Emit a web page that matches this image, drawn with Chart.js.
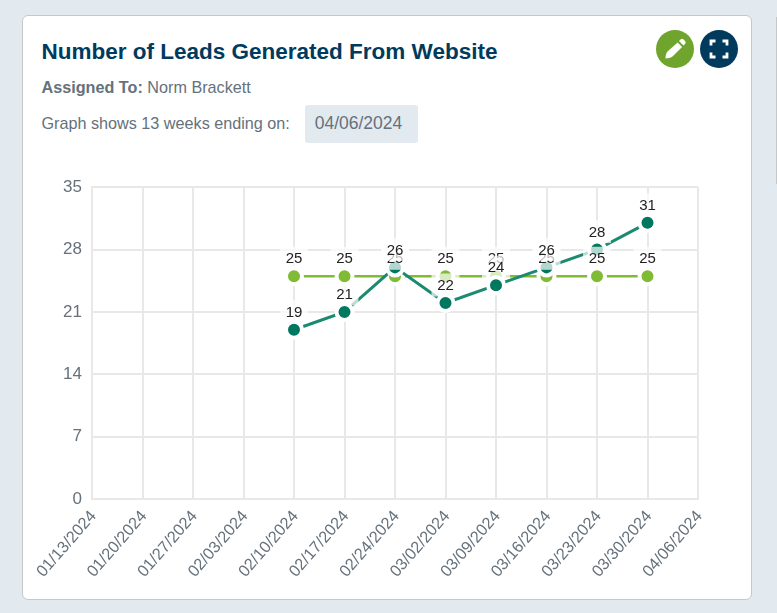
<!DOCTYPE html>
<html>
<head>
<meta charset="utf-8">
<title>Number of Leads Generated From Website</title>
<script src="https://cdn.jsdelivr.net/npm/chart.js@4"></script>
<style>
  html, body { margin: 0; height: 100%; overflow: hidden; background: #e2eaf0; font-family: "Liberation Sans", Arial, sans-serif; }
  .card { position: absolute; left: 22px; top: 15px; width: 728px; height: 583px; background: #fff; border: 1px solid #c4c8ca; border-radius: 6px; }
  .next-card { position: absolute; left: 776px; top: 17px; width: 1px; height: 167px; background: #c4c8ca; }
  .title { position: absolute; left: 18.5px; top: 23px; margin: 0; font-size: 22.5px; line-height: 26px; font-weight: bold; color: #003a5d; white-space: nowrap; }
  .assigned { position: absolute; left: 18.5px; top: 61px; font-size: 16.2px; line-height: 20px; color: #65717b; white-space: nowrap; }
  .ending { position: absolute; left: 18.5px; top: 97px; font-size: 16.2px; line-height: 20px; color: #65717b; white-space: nowrap; }
  .date { position: absolute; left: 282px; top: 89px; width: 107px; padding-right: 6px; height: 38px; line-height: 36px; text-align: center; font-size: 17.5px; color: #65717b; background: #e2eaf0; border-radius: 3px; }
  .icon { position: absolute; top: 14px; width: 38px; height: 38px; }
  #chart-wrap { position: absolute; left: 30px; top: 167px; width: 700px; height: 423px; }
</style>
</head>
<body>
<div class="next-card"></div>
<div class="card">
  <h1 class="title">Number of Leads Generated From Website</h1>
  <div class="assigned"><b>Assigned To:</b> Norm Brackett</div>
  <div class="ending">Graph shows 13 weeks ending on:</div>
  <div class="date">04/06/2024</div>
  <svg class="icon" style="left:633px" viewBox="0 0 38 38">
    <circle cx="19" cy="19" r="19" fill="#6fa52d"/>
    <path d="M24.5 9.5 a2.2 2.2 0 0 1 3.1 0 l1.4 1.4 a2.2 2.2 0 0 1 0 3.1 l-1.5 1.5 -4.5 -4.5z M21.6 12.4 l4.5 4.5 -9.6 9.6 c-1.4 1.3 -4.5 1.9 -7 2 c.1 -2.5 .7 -5.6 2 -7z" fill="#fff"/>
  </svg>
  <svg class="icon" style="left:677px" viewBox="0 0 38 38">
    <circle cx="19" cy="19" r="19" fill="#003a5d"/>
    <path d="M11 15.5 v-4.5 h4.5 M22.5 11 h4.5 v4.5 M27 22.5 v4.5 h-4.5 M15.5 27 h-4.5 v-4.5" fill="none" stroke="#fff" stroke-width="2.8"/>
  </svg>
</div>
<div id="chart-wrap"><canvas id="leads-chart"></canvas></div>
<script>
const weeks = ["01/13/2024", "01/20/2024", "01/27/2024", "02/03/2024", "02/10/2024", "02/17/2024", "02/24/2024", "03/02/2024", "03/09/2024", "03/16/2024", "03/23/2024", "03/30/2024", "04/06/2024"]
const targetValues = [null, null, null, null, 25, 25, 25, 25, 25, 25, 25, 25, null]
const actualValues = [null, null, null, null, 19, 21, 26, 22, 24, 26, 28, 31, null]
const yTicks = [0, 7, 14, 21, 28, 35]

// Value labels go on top of every point, with a see-through white backing
const valueLabels = {
  id: "valueLabels",
  afterDatasetsDraw(chart) {
    const ctx = chart.ctx
    ctx.save()
    ctx.font = '15px "Liberation Sans", Arial, sans-serif'
    ctx.textAlign = "center"
    ctx.textBaseline = "middle"
    chart.data.datasets.forEach((dataset, i) => {
      chart.getDatasetMeta(i).data.forEach((point, j) => {
        const value = dataset.data[j]
        if (value === null) return
        const y = point.y - 17
        ctx.fillStyle = "rgba(255, 255, 255, 0.7)"
        ctx.fillRect(point.x - 14, y - 12.5, 28, 23)
        ctx.fillStyle = "#222"
        ctx.fillText(value, point.x, y)
      })
    })
    ctx.restore()
  },
}

const lineColors = { target: "#7fbb34", actual: "#1b8a70" }

new Chart(document.getElementById("leads-chart"), {
  type: "line",
  plugins: [valueLabels],
  data: {
    labels: weeks,
    datasets: [
      {
        label: "Target",
        data: targetValues,
        order: 2,
        borderColor: lineColors.target,
        backgroundColor: lineColors.target,
        pointBackgroundColor: lineColors.target,
        pointBorderColor: "#fff",
        pointBorderWidth: 4,
        pointRadius: 8,
        borderWidth: 2.5,
        tension: 0,
      },
      {
        label: "Actual",
        data: actualValues,
        order: 1,
        borderColor: lineColors.actual,
        backgroundColor: "#00785f",
        pointBackgroundColor: "#00785f",
        pointBorderColor: "#fff",
        pointBorderWidth: 4,
        pointRadius: 8,
        borderWidth: 3,
        tension: 0,
      },
    ],
  },
  options: {
    responsive: true,
    maintainAspectRatio: false,
    animation: false,
    layout: { padding: { top: 15, right: 32 } },
    plugins: {
      legend: { display: false },
      tooltip: { enabled: false },
    },
    scales: {
      x: {
        grid: { color: "#e8e8e8", lineWidth: 2, drawTicks: false },
        border: { color: "#e8e8e8", width: 2 },
        ticks: {
          color: "#65717b",
          font: { family: '"Liberation Sans", Arial, sans-serif', size: 16.3 },
          maxRotation: 49,
          minRotation: 49,
          padding: 8,
          labelOffset: 1.5,
          autoSkip: false,
        },
        afterFit(axis) {
          axis.height = 91
        },
      },
      y: {
        min: 0,
        max: 35,
        afterBuildTicks(axis) {
          axis.ticks = yTicks.map((value) => ({ value }))
        },
        grid: { color: "#e8e8e8", lineWidth: 2, drawTicks: false },
        border: { color: "#e8e8e8", width: 2 },
        ticks: {
          color: "#65717b",
          font: { family: '"Liberation Sans", Arial, sans-serif', size: 17 },
          padding: 10,
        },
        afterFit(axis) {
          axis.width = 62
        },
      },
    },
  },
})
</script>
</body>
</html>
